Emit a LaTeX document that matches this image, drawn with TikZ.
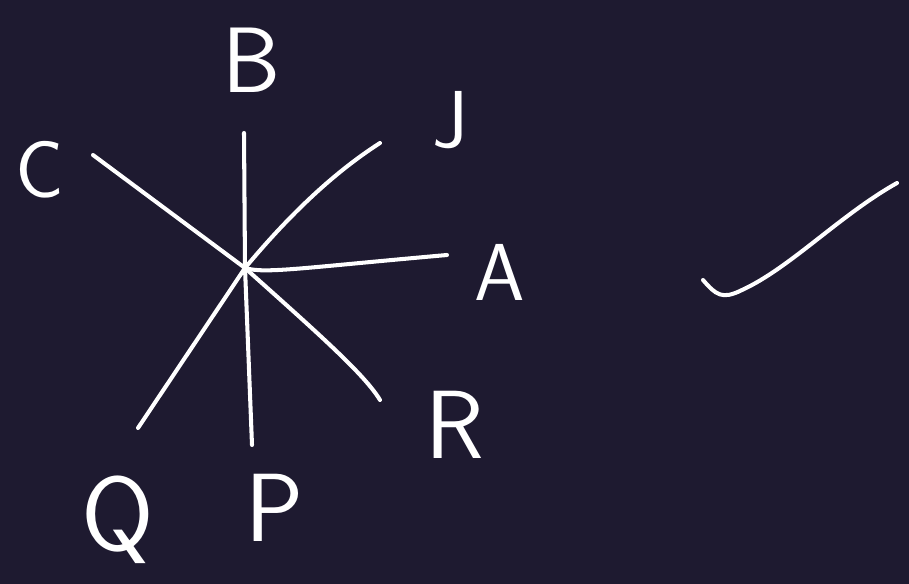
\documentclass[tikz,border=0pt]{standalone}
\usepackage{tikz}
\usetikzlibrary{positioning}
\definecolor{board}{HTML}{1E1A30}

\begin{document}
\begin{tikzpicture}[
    x=0.02cm, y=-0.02cm,
    ink/.style={draw=white, line width=2.3pt, line cap=round, line join=round},
    lbl/.style={text=white, inner sep=0pt, font=\fontsize{46}{46}\selectfont\sffamily}
  ]
    \fill[board] (0,0) rectangle (909,584);
    \useasboundingbox (0,0) rectangle (909,584);
    % Centre and ray ends
    \coordinate (o)  at (245,268);
    \coordinate (eb) at (244,133);
    \coordinate (ep) at (252,445);
    \coordinate (ec) at (93,155);
    \coordinate (er) at (380,400);
    \coordinate (ej) at (380,143);
    \coordinate (eq) at (138,428);
    \coordinate (ea) at (447,255);
    % Labels
    \node[lbl, scale=1.15] (b) at (252,60)  {B};
    \node[lbl] (j) at (450,120) {J};
    \node[lbl] (c) at (40,170)  {C};
    \node[lbl] (a) at (500,272) {A};
    \node[lbl, scale=1.2] (r) at (455,425) {R};
    \node[lbl, scale=1.2] (p) at (275,508) {P};
    \node[lbl, scale=1.3] (q) at (118,520) {Q};
    % Rays
    \draw[ink] (eb) -- (o) -- (ep);
    \draw[ink] (ec) -- (o) .. controls (320,335) and (365,375) .. (er);
    \draw[ink] (ej) .. controls (330,175) and (285,220) .. (o) -- (eq);
    \draw[ink] (o) .. controls (265,274) and (300,268) .. (ea);
    % Tick mark
    \coordinate (t1) at (703,280);
    \coordinate (t2) at (897,183);
    \draw[ink] (t1) .. controls (716,295) and (722,300) .. (742,290)
      .. controls (790,268) and (840,215) .. (t2);
\end{tikzpicture}
\end{document}
